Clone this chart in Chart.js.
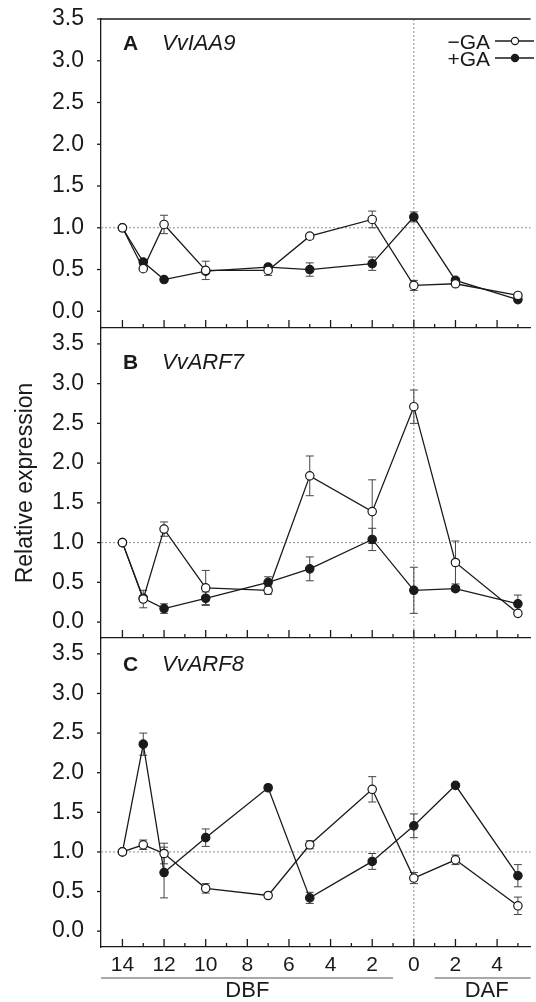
<!DOCTYPE html>
<html>
<head>
<meta charset="utf-8">
<script src="https://cdn.jsdelivr.net/npm/chart.js@4.4.1/dist/chart.umd.min.js"></script>
<style>
  body { margin: 0; background: #fff; }
  #wrap { position: relative; width: 536px; height: 1002px; overflow: hidden; }
  canvas { position: absolute; left: 0; }
</style>
</head>
<body>
<div id="wrap">
  <canvas id="chartA" width="536" height="344" style="top:0px"></canvas>
  <canvas id="chartB" width="536" height="342" style="top:312px"></canvas>
  <canvas id="chartC" width="536" height="380" style="top:622px"></canvas>
</div>
<script>
// sampling days: negative = days before flowering (DBF), positive = days after (DAF)
const days = [-14, -13, -12, -10, -7, -5, -2, 0, 2, 5];

// A  VvIAA9
const iaa9Minus    = [1.00, 0.51, 1.04, 0.49, 0.49, 0.90, 1.10, 0.31, 0.33, 0.19];
const iaa9MinusErr = [0, 0.02, 0.11, 0.11, 0.06, 0.03, 0.10, 0.06, 0.02, 0.02];
const iaa9Plus     = [1.00, 0.59, 0.38, 0.48, 0.53, 0.50, 0.57, 1.13, 0.37, 0.14];
const iaa9PlusErr  = [0, 0.03, 0.02, 0.02, 0.03, 0.08, 0.08, 0.06, 0.03, 0.02];

// B  VvARF7
const arf7Minus    = [1.00, 0.29, 1.17, 0.43, 0.40, 1.84, 1.39, 2.71, 0.75, 0.11];
const arf7MinusErr = [0, 0.11, 0.09, 0.22, 0.05, 0.25, 0.40, 0.21, 0.27, 0.02];
const arf7Plus     = [1.00, 0.30, 0.17, 0.30, 0.50, 0.67, 1.04, 0.40, 0.42, 0.23];
const arf7PlusErr  = [0, 0.03, 0.06, 0.08, 0.07, 0.15, 0.14, 0.29, 0.03, 0.11];

// C  VvARF8
const arf8Minus    = [1.00, 1.09, 0.98, 0.54, 0.45, 1.09, 1.79, 0.67, 0.90, 0.32];
const arf8MinusErr = [0, 0.06, 0.13, 0.06, 0.01, 0.05, 0.16, 0.07, 0.06, 0.11];
const arf8Plus     = [1.00, 2.36, 0.74, 1.18, 1.81, 0.42, 0.88, 1.33, 1.84, 0.70];
const arf8PlusErr  = [0, 0.14, 0.32, 0.11, 0.03, 0.07, 0.10, 0.15, 0.02, 0.14];

const seriesLabels = ['\u2212GA', '+GA'];
const yTicks = [0, 0.5, 1, 1.5, 2, 2.5, 3, 3.5];

const FONT = "'Liberation Sans', Arial, sans-serif";
const INK = '#1a1a1a';

function line(ctx, x1, y1, x2, y2) {
    ctx.beginPath();
    ctx.moveTo(x1, y1);
    ctx.lineTo(x2, y2);
    ctx.stroke();
}

function marker(ctx, x, y, r, filled) {
    ctx.beginPath();
    ctx.arc(x, y, r, 0, Math.PI * 2);
    ctx.fillStyle = filled ? INK : '#fff';
    ctx.fill();
    ctx.lineWidth = 1.2;
    ctx.strokeStyle = INK;
    ctx.stroke();
}

// reference lines, error bars, tick marks, panel labels, legend
const framePlugin = {
    id: 'frame',
    beforeDatasetsDraw(chart, args, opts) {
        const { ctx, chartArea: a, scales: { x, y } } = chart;
        ctx.save();
        ctx.strokeStyle = '#8c8c8c';
        ctx.lineWidth = 1;
        ctx.setLineDash([2, 2]);
        const y1 = y.getPixelForValue(1);
        line(ctx, a.left, y1, a.right, y1);
        const x0 = x.getPixelForValue(0);
        line(ctx, x0, a.top, x0, a.bottom);
        ctx.setLineDash([]);

        // error bars
        ctx.strokeStyle = '#444';
        ctx.lineWidth = 1;
        chart.data.datasets.forEach(ds => {
            ds.data.forEach((p, i) => {
                const e = ds.errors[i];
                if (!e) return;
                const px = x.getPixelForValue(p.x);
                const top = y.getPixelForValue(p.y + e);
                const bot = y.getPixelForValue(p.y - e);
                line(ctx, px, top, px, bot);
                line(ctx, px - 4, top, px + 4, top);
                line(ctx, px - 4, bot, px + 4, bot);
            });
        });
        ctx.restore();
    },
    afterDraw(chart, args, opts) {
        const { ctx, chartArea: a, scales: { x, y } } = chart;
        ctx.save();
        ctx.strokeStyle = INK;
        ctx.lineWidth = 1.3;
        if (opts.topLine) line(ctx, a.left, a.top, a.right, a.top);

        // short outward ticks on the y axis
        yTicks.forEach(v => {
            const py = y.getPixelForValue(v);
            line(ctx, a.left - 4, py, a.left, py);
        });

        // inward tick marks on the bottom axis
        for (let d = -14; d <= 6; d++) {
            const px = x.getPixelForValue(d);
            if (px > a.right) break;
            const len = d % 2 === 0 ? 8 : 4;
            line(ctx, px, a.bottom, px, a.bottom - len);
        }

        // panel letter and gene name
        ctx.fillStyle = INK;
        ctx.textBaseline = 'alphabetic';
        ctx.textAlign = 'left';
        ctx.font = 'bold 21px ' + FONT;
        ctx.fillText(opts.letter, 123, a.top + opts.labelOffset);
        ctx.font = 'italic 22px ' + FONT;
        ctx.fillText(opts.gene, 162, a.top + opts.labelOffset);

        if (opts.legend) {
            chart.data.datasets.forEach((ds, i) => {
                const cy = a.top + 22 + i * 17;
                ctx.font = '21px ' + FONT;
                ctx.textAlign = 'right';
                ctx.fillStyle = INK;
                ctx.fillText(ds.label, 490, cy + 7.5);
                ctx.strokeStyle = INK;
                ctx.lineWidth = 1.3;
                line(ctx, 495, cy, 534, cy);
                marker(ctx, 515, cy, 3.6, i === 1);
            });
        }

        if (opts.yTitle) {
            ctx.save();
            ctx.translate(31.5, (a.top + a.bottom) / 2);
            ctx.rotate(-Math.PI / 2);
            ctx.font = '23px ' + FONT;
            ctx.textAlign = 'center';
            ctx.fillStyle = INK;
            ctx.fillText('Relative expression', 0, 0);
            ctx.restore();
        }

        if (opts.periods) {
            const ly = a.bottom + 31;
            ctx.strokeStyle = '#555';
            ctx.lineWidth = 1.2;
            line(ctx, a.left, ly, x.getPixelForValue(-1), ly);
            line(ctx, x.getPixelForValue(1), ly, a.right, ly);
            ctx.font = '22px ' + FONT;
            ctx.textAlign = 'center';
            ctx.fillStyle = INK;
            ctx.fillText('DBF', x.getPixelForValue(-8), a.bottom + 50);
            ctx.fillText('DAF', x.getPixelForValue(3.5), a.bottom + 50);
        }
        ctx.restore();
    }
};

function makePanel(id, minus, minusErr, plus, plusErr, cfg) {
    const ctx = document.getElementById(id).getContext('2d');
    const pts = vals => days.map((d, i) => ({ x: d, y: vals[i] }));
    return new Chart(ctx, {
        type: 'line',
        data: {
            datasets: [{
                label: seriesLabels[0],
                data: pts(minus),
                errors: minusErr,
                borderColor: INK,
                borderWidth: 1.3,
                pointRadius: 4.2,
                pointBackgroundColor: '#fff',
                pointBorderColor: INK,
                pointBorderWidth: 1.2,
                tension: 0
            }, {
                label: seriesLabels[1],
                data: pts(plus),
                errors: plusErr,
                borderColor: INK,
                borderWidth: 1.3,
                pointRadius: 4.2,
                pointBackgroundColor: INK,
                pointBorderColor: INK,
                pointBorderWidth: 1.2,
                tension: 0
            }]
        },
        options: {
            responsive: false,
            animation: false,
            layout: { padding: { top: cfg.padTop, left: 0, right: 0, bottom: 0 } },
            plugins: {
                legend: { display: false },
                tooltip: { enabled: false },
                frame: cfg.frame
            },
            scales: {
                x: {
                    type: 'linear',
                    min: -15.03,
                    max: 5.61,
                    afterFit: s => { s.height = cfg.xHeight; },
                    grid: { display: false, drawTicks: false },
                    border: { display: true, color: INK, width: 1.3 },
                    ticks: {
                        display: cfg.xLabels,
                        stepSize: 2,
                        includeBounds: false,
                        autoSkip: false,
                        maxRotation: 0,
                        minRotation: 0,
                        padding: 6,
                        color: INK,
                        font: { family: FONT, size: 21 },
                        callback: v => (v <= 4 ? String(Math.abs(v)) : '')
                    }
                },
                y: {
                    min: -0.2,
                    max: cfg.yMax,
                    afterFit: s => { s.width = 101; },
                    afterBuildTicks: s => { s.ticks = yTicks.map(v => ({ value: v })); },
                    // invisible long tick only sets the label gap; real ticks drawn by plugin
                    grid: { drawOnChartArea: false, drawTicks: true, tickLength: 17, color: 'rgba(0,0,0,0)' },
                    border: { display: true, color: INK, width: 1.3 },
                    ticks: {
                        padding: 0,
                        color: INK,
                        font: { family: FONT, size: 23 },
                        callback: v => Number(v).toFixed(1)
                    }
                }
            }
        },
        plugins: [framePlugin]
    });
}

makePanel('chartA', iaa9Minus, iaa9MinusErr, iaa9Plus, iaa9PlusErr, {
    padTop: 19, xHeight: 16, yMax: 3.5, xLabels: false,
    frame: { letter: 'A', gene: 'VvIAA9', labelOffset: 31, legend: true, topLine: true }
});
makePanel('chartB', arf7Minus, arf7MinusErr, arf7Plus, arf7PlusErr, {
    padTop: 16, xHeight: 16, yMax: 3.7, xLabels: false,
    frame: { letter: 'B', gene: 'VvARF7', labelOffset: 41, yTitle: true }
});
makePanel('chartC', arf8Minus, arf8MinusErr, arf8Plus, arf8PlusErr, {
    padTop: 16, xHeight: 55, yMax: 3.7, xLabels: true,
    frame: { letter: 'C', gene: 'VvARF8', labelOffset: 33, periods: true }
});
</script>
</body>
</html>
